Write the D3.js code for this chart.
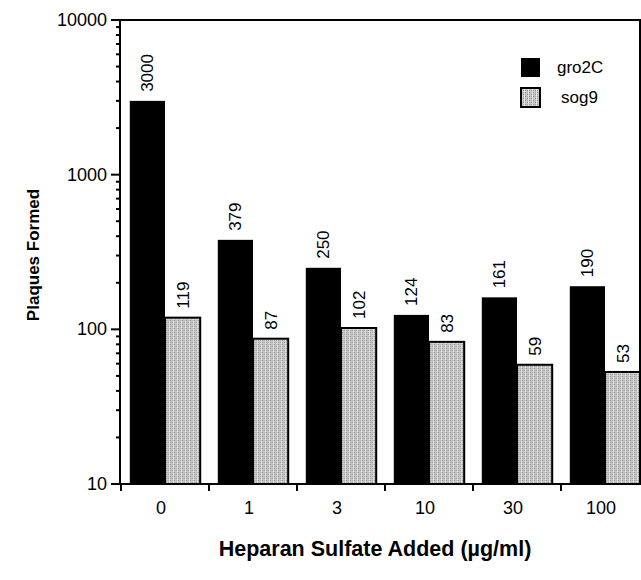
<!DOCTYPE html>
<html>
<head>
<meta charset="utf-8">
<script src="https://cdn.jsdelivr.net/npm/d3@7"></script>
<style>
body { margin: 0; background: #fff; }
text { font-family: "Liberation Sans", Arial, Helvetica, sans-serif; }
</style>
</head>
<body>
<svg></svg>
<script>
var categories = ["0", "1", "3", "10", "30", "100"];
var gro2C = [3000, 379, 250, 124, 161, 190];
var sog9 = [119, 87, 102, 83, 59, 53];
var seriesNames = ["gro2C", "sog9"];
var yTicks = [10, 100, 1000, 10000];

var viewWidth = 641, viewHeight = 580;
var svg = d3.select("svg")
    .attr("width", viewWidth)
    .attr("height", viewHeight);

var defs = svg.append("defs");
var pat = defs.append("pattern")
    .attr("id", "stipple")
    .attr("patternUnits", "userSpaceOnUse")
    .attr("width", 4)
    .attr("height", 4);
pat.append("rect").attr("width", 4).attr("height", 4).attr("fill", "#c8c8c8");
pat.append("rect").attr("x", 0).attr("y", 0).attr("width", 1).attr("height", 1).attr("fill", "#8a8a8a");
pat.append("rect").attr("x", 2).attr("y", 2).attr("width", 1).attr("height", 1).attr("fill", "#8a8a8a");
pat.append("rect").attr("x", 2).attr("y", 0).attr("width", 1).attr("height", 1).attr("fill", "#a0a0a0");
pat.append("rect").attr("x", 0).attr("y", 2).attr("width", 1).attr("height", 1).attr("fill", "#a0a0a0");
pat.append("rect").attr("x", 3).attr("y", 0).attr("width", 1).attr("height", 4).attr("fill", "#e6e6e6");

var plotLeft = 120, plotRight = 649, plotTop = 20, plotBottom = 484;

var x = d3.scaleBand()
    .domain(categories)
    .range([plotLeft + 1, plotRight])
    .paddingInner(0.2)
    .paddingOuter(0.1);

var xs = d3.scaleBand()
    .domain(seriesNames)
    .range([0, x.bandwidth()]);

var y = d3.scaleLog()
    .domain([10, 10000])
    .range([plotBottom, plotTop]);

var data = categories.map(function(c, i) {
    return {cat: c, values: [{key: "gro2C", v: gro2C[i]}, {key: "sog9", v: sog9[i]}]};
});

// bars
var groups = svg.selectAll(".grp")
    .data(data)
    .enter()
    .append("g")
    .attr("transform", function(d) { return "translate(" + x(d.cat) + ",0)"; });

groups.selectAll("rect")
    .data(function(d) { return d.values; })
    .enter()
    .append("rect")
    .attr("x", function(d) { return xs(d.key); })
    .attr("y", function(d) { return y(d.v); })
    .attr("width", xs.bandwidth())
    .attr("height", function(d) { return plotBottom - y(d.v); })
    .attr("fill", function(d) { return d.key == "gro2C" ? "#000" : "url(#stipple)"; })
    .attr("stroke", "#000")
    .attr("stroke-width", function(d) { return d.key == "gro2C" ? 0 : 2; });

// value labels
groups.selectAll(".val")
    .data(function(d) { return d.values; })
    .enter()
    .append("text")
    .attr("transform", function(d) {
        return "translate(" + (xs(d.key) + xs.bandwidth() / 2 + 6) + "," + (y(d.v) - 9) + ") rotate(-90)";
    })
    .attr("font-size", 17)
    .text(function(d) { return d.v; });

// y axis
var yAxis = svg.append("g")
    .attr("transform", "translate(" + plotLeft + ",0)");
var minor = [];
for (var dec = 10; dec < 10000; dec *= 10) {
    for (var k = 2; k <= 9; k++) minor.push(dec * k);
}
yAxis.selectAll(".minor")
    .data(minor)
    .enter()
    .append("line")
    .attr("x1", -4).attr("x2", 0)
    .attr("y1", function(d) { return y(d); })
    .attr("y2", function(d) { return y(d); })
    .attr("stroke", "#000").attr("stroke-width", 2);
yAxis.selectAll(".major")
    .data(yTicks)
    .enter()
    .append("line")
    .attr("x1", -9).attr("x2", 0)
    .attr("y1", function(d) { return y(d); })
    .attr("y2", function(d) { return y(d); })
    .attr("stroke", "#000").attr("stroke-width", 2);
yAxis.selectAll(".lab")
    .data(yTicks)
    .enter()
    .append("text")
    .attr("x", -13)
    .attr("y", function(d) { return y(d) + 6; })
    .attr("text-anchor", "end")
    .attr("font-size", 18)
    .text(function(d) { return d; });
yAxis.append("line")
    .attr("x1", 0).attr("x2", 0)
    .attr("y1", plotTop).attr("y2", plotBottom)
    .attr("stroke", "#000").attr("stroke-width", 2);

// frame lines and bottom axis
svg.append("line")
    .attr("x1", plotLeft).attr("x2", viewWidth)
    .attr("y1", plotTop).attr("y2", plotTop)
    .attr("stroke", "#000").attr("stroke-width", 2);
svg.append("line")
    .attr("x1", plotLeft).attr("x2", viewWidth)
    .attr("y1", plotBottom).attr("y2", plotBottom)
    .attr("stroke", "#000").attr("stroke-width", 2);
svg.append("line")
    .attr("x1", viewWidth - 1).attr("x2", viewWidth - 1)
    .attr("y1", plotTop).attr("y2", plotBottom)
    .attr("stroke", "#000").attr("stroke-width", 2);

// x ticks at group boundaries
var step = x.step();
svg.selectAll(".xtick")
    .data(categories)
    .enter()
    .append("line")
    .attr("x1", function(d) { return x(d) - step * 0.1; })
    .attr("x2", function(d) { return x(d) - step * 0.1; })
    .attr("y1", plotBottom).attr("y2", plotBottom + 7)
    .attr("stroke", "#000").attr("stroke-width", 2);

svg.selectAll(".xlab")
    .data(categories)
    .enter()
    .append("text")
    .attr("x", function(d) { return x(d) + x.bandwidth() / 2 - 4; })
    .attr("y", plotBottom + 30)
    .attr("text-anchor", "middle")
    .attr("font-size", 18)
    .text(function(d) { return d; });

// axis titles
svg.append("text")
    .attr("x", 375)
    .attr("y", 556)
    .attr("text-anchor", "middle")
    .attr("font-size", 21.5)
    .attr("font-weight", "bold")
    .text("Heparan Sulfate Added (\u00b5g/ml)");

svg.append("text")
    .attr("transform", "translate(39,255) rotate(-90)")
    .attr("text-anchor", "middle")
    .attr("font-size", 17)
    .attr("font-weight", "bold")
    .text("Plaques Formed");

// legend
var legend = svg.selectAll(".leg")
    .data(seriesNames)
    .enter()
    .append("g")
    .attr("transform", function(d, i) { return "translate(521," + (58 + i * 30) + ")"; });
legend.append("rect")
    .attr("width", 19).attr("height", 19)
    .attr("fill", function(d) { return d == "gro2C" ? "#000" : "url(#stipple)"; })
    .attr("stroke", "#000")
    .attr("stroke-width", function(d) { return d == "gro2C" ? 0 : 2; });
legend.append("text")
    .attr("x", function(d) { return d == "gro2C" ? 36 : 40; })
    .attr("y", 15)
    .attr("font-size", 17)
    .text(function(d) { return d; });
</script>
</body>
</html>
